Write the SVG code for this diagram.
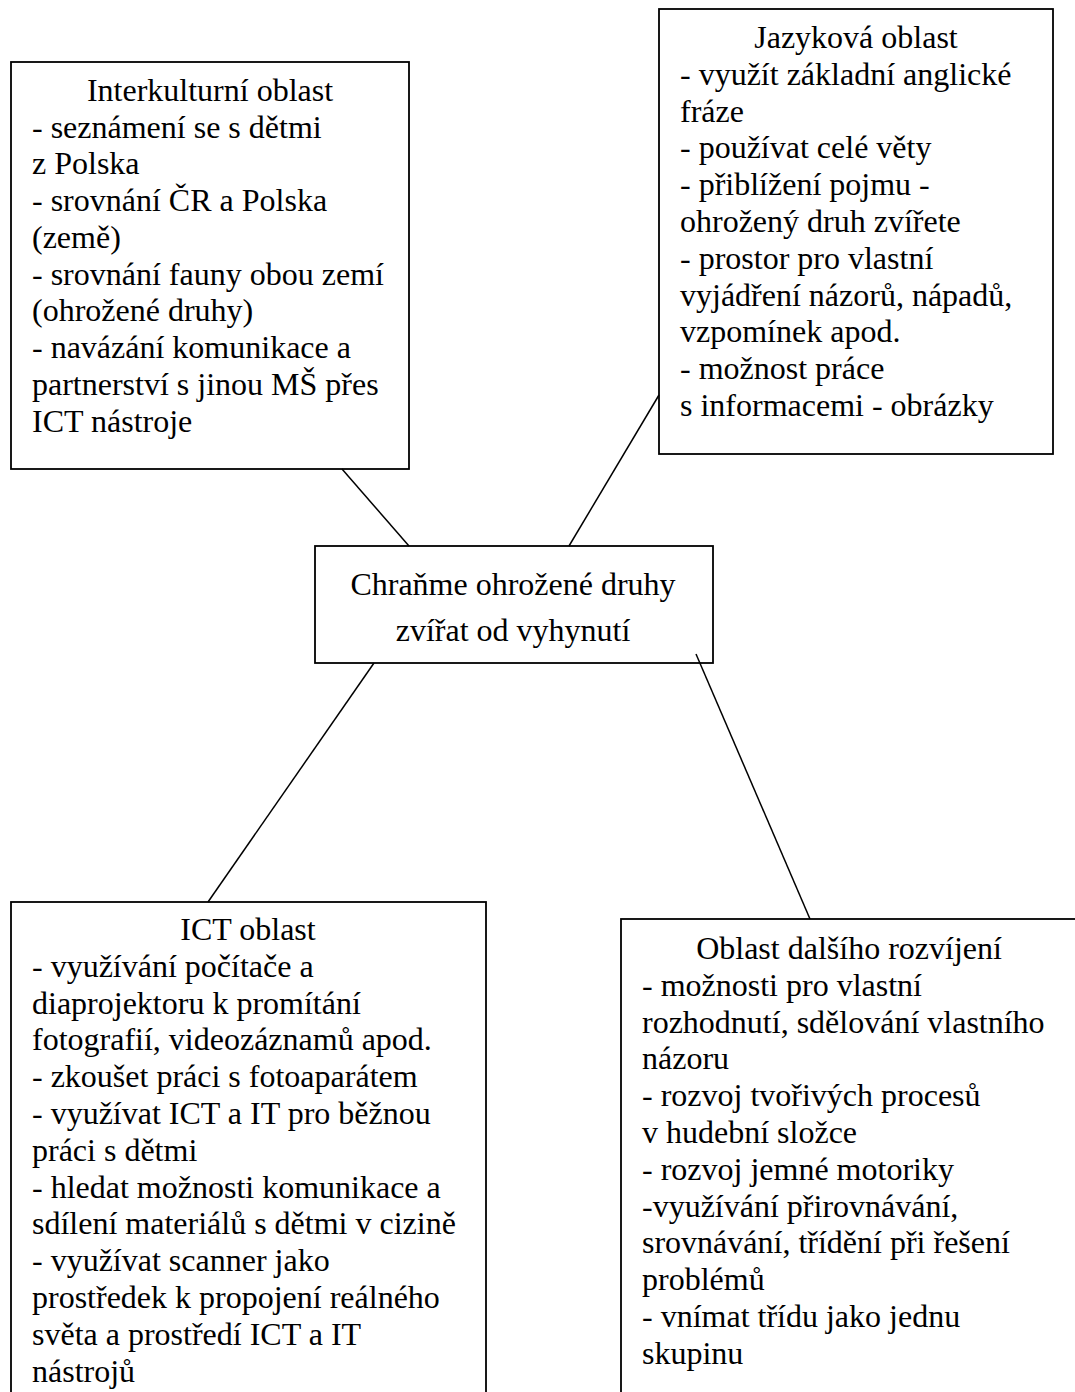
<svg xmlns="http://www.w3.org/2000/svg" width="1075" height="1392" viewBox="0 0 1075 1392">
<style>
  .box { fill: #ffffff; stroke: #000000; stroke-width: 1.8; }
  .t { font-family: "Liberation Serif", "Times New Roman", serif; font-size: 32px; fill: #000000; }
  .c { text-anchor: middle; }
  .conn line { stroke: #000000; stroke-width: 1.5; }
</style>
<rect x="0" y="0" width="1075" height="1392" fill="#ffffff"/>
<g id="node-interkulturni">
  <rect class="box" x="11" y="62" width="398" height="407"/>
  <text class="t c" x="210" y="101">Interkulturní oblast</text>
  <text class="t" x="32" y="138">- seznámení se s dětmi</text>
  <text class="t" x="32" y="174">z Polska</text>
  <text class="t" x="32" y="211">- srovnání ČR a Polska</text>
  <text class="t" x="32" y="248">(země)</text>
  <text class="t" x="32" y="285">- srovnání fauny obou zemí</text>
  <text class="t" x="32" y="321">(ohrožené druhy)</text>
  <text class="t" x="32" y="358">- navázání komunikace a</text>
  <text class="t" x="32" y="395">partnerství s jinou MŠ přes</text>
  <text class="t" x="32" y="432">ICT nástroje</text>
</g>
<g id="node-jazykova">
  <rect class="box" x="659" y="9" width="394" height="445"/>
  <text class="t c" x="856" y="48">Jazyková oblast</text>
  <text class="t" x="680" y="85">- využít základní anglické</text>
  <text class="t" x="680" y="122">fráze</text>
  <text class="t" x="680" y="158">- používat celé věty</text>
  <text class="t" x="680" y="195">- přiblížení pojmu -</text>
  <text class="t" x="680" y="232">ohrožený druh zvířete</text>
  <text class="t" x="680" y="269">- prostor pro vlastní</text>
  <text class="t" x="680" y="306">vyjádření názorů, nápadů,</text>
  <text class="t" x="680" y="342">vzpomínek apod.</text>
  <text class="t" x="680" y="379">- možnost práce</text>
  <text class="t" x="680" y="416">s informacemi - obrázky</text>
</g>
<g id="node-center">
  <rect class="box" x="315" y="546" width="398" height="117"/>
  <text class="t c" x="513" y="595">Chraňme ohrožené druhy</text>
  <text class="t c" x="513" y="641">zvířat od vyhynutí</text>
</g>
<g id="node-ict">
  <rect class="box" x="11" y="902" width="475" height="500"/>
  <text class="t c" x="248" y="940">ICT oblast</text>
  <text class="t" x="32" y="977">- využívání počítače a</text>
  <text class="t" x="32" y="1014">diaprojektoru k promítání</text>
  <text class="t" x="32" y="1050">fotografií, videozáznamů apod.</text>
  <text class="t" x="32" y="1087">- zkoušet práci s fotoaparátem</text>
  <text class="t" x="32" y="1124">- využívat ICT a IT pro běžnou</text>
  <text class="t" x="32" y="1161">práci s dětmi</text>
  <text class="t" x="32" y="1198">- hledat možnosti komunikace a</text>
  <text class="t" x="32" y="1234">sdílení materiálů s dětmi v cizině</text>
  <text class="t" x="32" y="1271">- využívat scanner jako</text>
  <text class="t" x="32" y="1308">prostředek k propojení reálného</text>
  <text class="t" x="32" y="1345">světa a prostředí ICT a IT</text>
  <text class="t" x="32" y="1382">nástrojů</text>
</g>
<g id="node-oblast">
  <rect class="box" x="621" y="919" width="456" height="490"/>
  <text class="t c" x="849" y="959">Oblast dalšího rozvíjení</text>
  <text class="t" x="642" y="996">- možnosti pro vlastní</text>
  <text class="t" x="642" y="1033">rozhodnutí, sdělování vlastního</text>
  <text class="t" x="642" y="1069">názoru</text>
  <text class="t" x="642" y="1106">- rozvoj tvořivých procesů</text>
  <text class="t" x="642" y="1143">v hudební složce</text>
  <text class="t" x="642" y="1180">- rozvoj jemné motoriky</text>
  <text class="t" x="642" y="1217">-využívání přirovnávání,</text>
  <text class="t" x="642" y="1253">srovnávání, třídění při řešení</text>
  <text class="t" x="642" y="1290">problémů</text>
  <text class="t" x="642" y="1327">- vnímat třídu jako jednu</text>
  <text class="t" x="642" y="1364">skupinu</text>
</g>
<g id="connectors" class="conn">
  <line x1="342" y1="469" x2="409" y2="546"/>
  <line x1="659" y1="395" x2="569" y2="546"/>
  <line x1="374" y1="663" x2="208" y2="902"/>
  <line x1="696" y1="654" x2="810" y2="919"/>
</g>
</svg>
